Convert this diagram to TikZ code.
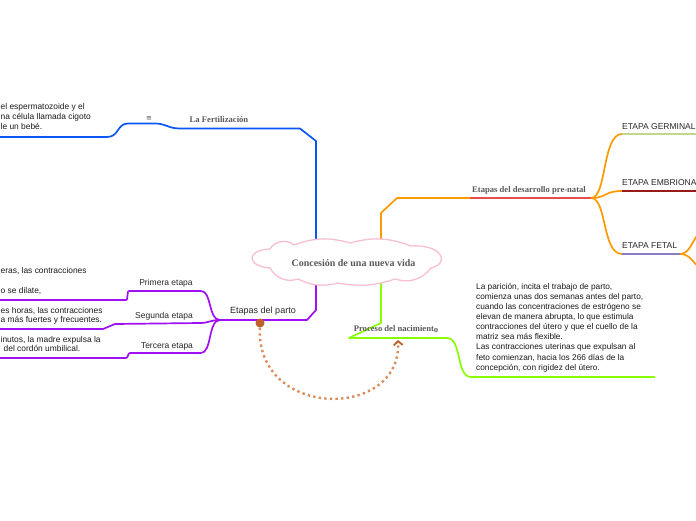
\documentclass[tikz,border=0pt]{standalone}
\usepackage{fontspec}
\setmainfont{Liberation Sans}
\newfontfamily\serifbold{Liberation Serif}
\newfontfamily\symfont{DejaVu Sans}
\usetikzlibrary{arrows.meta, positioning, backgrounds}

\pgfdeclarelayer{cloudlayer}
\pgfsetlayers{background,cloudlayer,main}

\definecolor{fertblue}{HTML}{0A55F5}
\definecolor{devorange}{HTML}{FF9900}
\definecolor{devred}{HTML}{E84C4C}
\definecolor{birthgreen}{HTML}{88FF00}
\definecolor{partopurple}{HTML}{A010F5}
\definecolor{germline}{HTML}{C5D68C}
\definecolor{embrline}{HTML}{9A1A1A}
\definecolor{fetline}{HTML}{8C7CC4}
\definecolor{dotlink}{HTML}{D98C5C}
\definecolor{dotdark}{HTML}{C0602A}
\definecolor{cloudpink}{HTML}{F7BFD0}

\tikzset{
  lbl/.style={font=\fontsize{8.5}{10}\selectfont, text=black!85, inner sep=0pt},
  serlbl/.style={font=\serifbold\bfseries\fontsize{8.6}{10}\selectfont, text=black!65, inner sep=0pt},
  para/.style={font=\fontsize{8.4}{10}\selectfont, align=left, inner sep=0pt, text=black!90, anchor=north west},
  branch/.style={line width=1.7pt, line join=round},
}

\begin{document}
\begin{tikzpicture}[x=1pt, y=-1pt]
    \useasboundingbox (0,0) rectangle (696,520);

    % Central idea
    \node[serlbl, font=\serifbold\bfseries\fontsize{10}{12}\selectfont] (root) at (353.5,263) {Concesión de una nueva vida};
    \begin{pgfonlayer}{cloudlayer}
        \draw[cloudpink, line width=1.3pt, fill=white]
            (270,249) to[bend left=50] (294,245) to[bend left=18] (350,243) to[bend left=18] (411,246)
            .. controls (440,244) and (452,262) .. (431,268) to[bend left=35] (395,279)
            to[bend left=14] (338,283) to[bend left=20] (298,279) to[bend left=40] (270,268)
            .. controls (246,266) and (246,250) .. (270,249) -- cycle;
    \end{pgfonlayer}

    % Branch labels
    \node[serlbl] (fert) at (219,120) {La Fertilización};
    \node[font=\symfont\fontsize{7}{8}\selectfont, text=black!70, inner sep=0pt] (icon) at (149,119) {≡};
    \node[serlbl] (desarrollo) at (529,190) {Etapas del desarrollo pre-natal};
    \node[serlbl] (nacimiento) at (396,329) {Proceso del nacimient\raisebox{-0.4ex}{o}};
    \node[lbl, font=\fontsize{9}{10}\selectfont] (parto) at (263,311) {Etapas del parto};

    % Sub-branch labels
    \node[lbl, anchor=west] (germinal) at (622,127) {ETAPA GERMINAL};
    \node[lbl, anchor=west] (embrional) at (622,183) {ETAPA EMBRIONAL};
    \node[lbl, anchor=west] (fetal) at (622,246) {ETAPA FETAL};
    \node[lbl] (primera) at (166,283) {Primera etapa};
    \node[lbl] (segunda) at (164,316) {Segunda etapa};
    \node[lbl] (tercera) at (167,346) {Tercera etapa};

    % Notes
    \node[para] (fertText) at (0.5,103.5) {el espermatozoide y el\\na célula llamada cigoto\\le un bebé.};
    \node[para] (primeraText) at (0.5,267) {eras, las contracciones\\[10.5pt]o se dilate,};
    \node[para, font=\fontsize{8.4}{9.5}\selectfont] (segundaText) at (0.5,307) {es horas, las contracciones\\a más fuertes y frecuentes.};
    \node[para, font=\fontsize{8.4}{9.5}\selectfont] (terceraText) at (0.5,336) {inutos, la madre expulsa la\\\hspace*{3pt}del cordón umbilical.};
    \node[para, font=\fontsize{8.3}{10.1}\selectfont] (nacText) at (476,283) {La parición, incita el trabajo de parto,\\comienza unas dos semanas antes del parto,\\cuando las concentraciones de estrógeno se\\elevan de manera abrupta, lo que estimula\\contracciones del útero y que el cuello de la\\matriz sea más flexible.\\Las contracciones uterinas que expulsan al\\feto comienzan, hacia los 266 días de la\\concepción, con rigidez del útero.};

    % Connectors
    \coordinate (fertEnd) at (180,128.5);
    \coordinate (devJoin) at (470,198);
    \coordinate (devFork) at (591,198);
    \coordinate (fetFork) at (680,254);
    \coordinate (partoFork) at (220,320);
    \coordinate (nacJoin) at (349,338);
    \begin{scope}[on background layer]
        \draw[branch, fertblue] (root.center -| 316,0) -- (316,141) -- (300,128.5) -- (fertEnd)
            .. controls (168,128.5) and (166,123.5) .. (155,123.5) -- (128,123.5)
            .. controls (117,123.5) and (119,137) .. (107,137) -- (0,137);
        \draw[branch, devorange] (root.center -| 381,0) -- (381,213) -- (397,198) -- (devJoin);
        \draw[branch, devred] (devJoin) -- (devFork);
        \draw[branch, devorange] (devFork) .. controls (607,198) and (602,134) .. (germinal.west |- 0,134);
        \draw[branch, devorange] (devFork) .. controls (607,198) and (604,191) .. (germinal.west |- 0,191);
        \draw[branch, devorange] (devFork) .. controls (607,198) and (602,254) .. (germinal.west |- 0,254);
        \draw[branch, germline] (germinal.west |- 0,134) -- (700,134);
        \draw[branch, embrline] (germinal.west |- 0,191) -- (700,191);
        \draw[branch, fetline] (germinal.west |- 0,254) -- (fetFork);
        \draw[branch, devorange] (fetFork) .. controls (690,254) and (692,240) .. (700,232);
        \draw[branch, devorange] (fetFork) .. controls (690,254) and (692,262) .. (700,268);
        \draw[branch, birthgreen] (root.center -| 381,0) -- (381,323) -- (nacJoin) -- (447,338)
            .. controls (462,338) and (456,377) .. (471,377) -- (655,377);
        \draw[branch, partopurple] (root.center -| 316,0) -- (316,310) -- (307,320) -- (partoFork);
        \draw[branch, partopurple, rounded corners=1pt] (partoFork) .. controls (208,320) and (212,291) .. (200,291)
            -- (128,291) -- (127,300) -- (0,300);
        \draw[branch, partopurple] (partoFork) .. controls (210,320) and (209,323) .. (200,323)
            -- (115,324) -- (103,329) -- (0,329);
        \draw[branch, partopurple, rounded corners=1pt] (partoFork) .. controls (208,320) and (212,353) .. (200,353)
            -- (129,353) -- (127,358) -- (0,358);
    \end{scope}

    % Relationship
    \node[circle, fill=dotdark, inner sep=0pt, minimum size=9pt] (partoDot) at (260,323) {};
    \coordinate (nacPoint) at (398,340);
    \draw[dotlink, line width=2.4pt, dash pattern=on 2.4pt off 3.2pt,
          -{Straight Barb[length=4pt, width=9pt, line width=1.8pt, color=dotdark]}]
        (partoDot) .. controls (256,420) and (402,420) .. (nacPoint);
\end{tikzpicture}
\end{document}
